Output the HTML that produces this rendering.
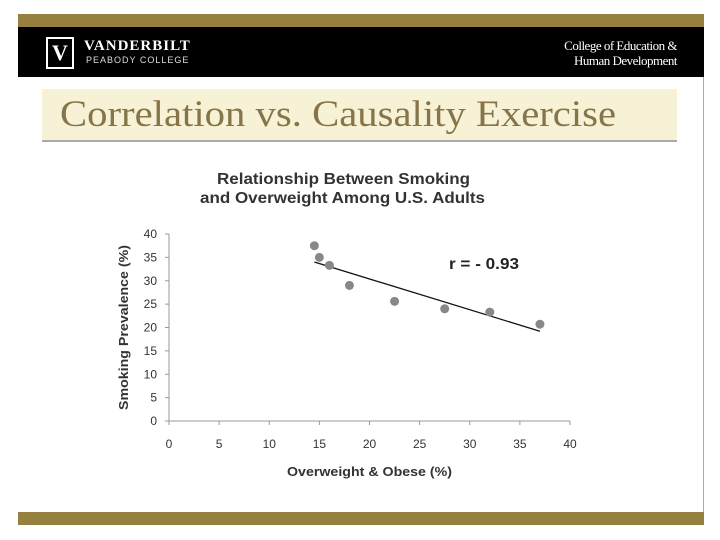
<!DOCTYPE html>
<html><head><meta charset="utf-8"><style>
body{margin:0;width:720px;height:540px;background:#fff;position:relative;overflow:hidden;font-family:"Liberation Sans",sans-serif}
.abs{position:absolute}
</style></head><body>
<div class="abs" style="left:18px;top:14px;width:686px;height:13px;background:#95803f"></div>
<div class="abs" style="left:18px;top:27px;width:686px;height:50px;background:#000"></div>
<div class="abs" style="left:46px;top:37px;width:28px;height:32px;border:2px solid #fff;box-sizing:border-box;color:#fff;font:bold 22px 'Liberation Serif',serif;text-align:center;line-height:28px">V</div>
<div class="abs" style="left:84px;top:38px;color:#fff;font:bold 15px 'Liberation Serif',serif;letter-spacing:1px">VANDERBILT</div>
<div class="abs" style="left:86px;top:55px;color:#ddd;font:9px 'Liberation Sans',sans-serif;letter-spacing:1px">PEABODY COLLEGE</div>
<div class="abs" style="left:542px;top:38px;color:#fff;font:13px/15px 'Liberation Serif',serif;text-align:right;width:135px;letter-spacing:-0.5px">College of Education &amp;<br>Human Development</div>
<div class="abs" style="left:703px;top:77px;width:1px;height:435px;background:#aaa"></div>
<div class="abs" style="left:42px;top:89px;width:635px;height:51px;background:#f7f1d5;border-bottom:2px solid #aaa"></div>
<div class="abs" style="left:60px;top:93px;color:#857548;font:37px 'Liberation Serif',serif;transform:scaleX(1.1);transform-origin:left top;white-space:nowrap">Correlation vs. Causality Exercise</div>
<div class="abs" style="left:18px;top:512px;width:686px;height:13px;background:#95803f"></div>
<svg class="abs" style="left:0;top:0" width="720" height="540">
<text x="217" y="184" textLength="253" lengthAdjust="spacingAndGlyphs" font-size="16" font-weight="bold" fill="#333">Relationship Between Smoking</text>
<text x="200" y="203" textLength="285" lengthAdjust="spacingAndGlyphs" font-size="16" font-weight="bold" fill="#333">and Overweight Among U.S. Adults</text>
<g id="axes"></g><g id="marks"></g>
<text x="449" y="269" textLength="70" lengthAdjust="spacingAndGlyphs" font-size="16" font-weight="bold" fill="#222">r = - 0.93</text>
<text x="287" y="476" textLength="165" lengthAdjust="spacingAndGlyphs" font-size="13" font-weight="bold" fill="#333">Overweight &amp; Obese (%)</text>
<text transform="translate(128,410) rotate(-90)" textLength="165" lengthAdjust="spacingAndGlyphs" font-size="13" font-weight="bold" fill="#333">Smoking Prevalence (%)</text>
</svg>
<script>
const xVals=[14.5,15,16,18,22.5,27.5,32,37];
const yVals=[37.5,35,33.3,29,25.6,24,23.3,20.7];
const xTicks=[0,5,10,15,20,25,30,35,40];
const yTicks=[0,5,10,15,20,25,30,35,40];
const trendX=[14.5,37];
const trendY=[34,19.2];
const NS='http://www.w3.org/2000/svg';
const sx=v=>169+v*10.025, sy=v=>421-v*4.675;
function mk(t,a,p){const e=document.createElementNS(NS,t);for(const k in a)e.setAttribute(k,a[k]);p.appendChild(e);return e;}
const ax=document.getElementById('axes'),mg=document.getElementById('marks');
let e=mk('line',{x1:sx(0),y1:sy(0),x2:sx(40),y2:sy(0),stroke:'#999'},ax);


e=mk('line',{x1:sx(0),y1:sy(0),x2:sx(0),y2:sy(40),stroke:'#999'},ax);


xTicks.forEach(v=>{mk('line',{x1:sx(v),y1:sy(0),x2:sx(v),y2:sy(0)+4,stroke:'#999'},ax);
 const t=mk('text',{x:sx(v),y:448,'text-anchor':'middle','font-size':12,fill:'#333'},ax);t.textContent=v;
 
 });
yTicks.forEach(v=>{mk('line',{x1:sx(0)-4,y1:sy(v),x2:sx(0),y2:sy(v),stroke:'#999'},ax);
 const t=mk('text',{x:157,y:sy(v)+4,'text-anchor':'end','font-size':12,fill:'#333'},ax);t.textContent=v;
 
 });
e=mk('line',{x1:sx(trendX[0]),y1:sy(trendY[0]),x2:sx(trendX[1]),y2:sy(trendY[1]),stroke:'#111','stroke-width':1.3},mg);


xVals.forEach((x,i)=>{const c=mk('circle',{cx:sx(x),cy:sy(yVals[i]),r:4.5,fill:'#888'},mg);
 
 });
</script>
</body></html>
